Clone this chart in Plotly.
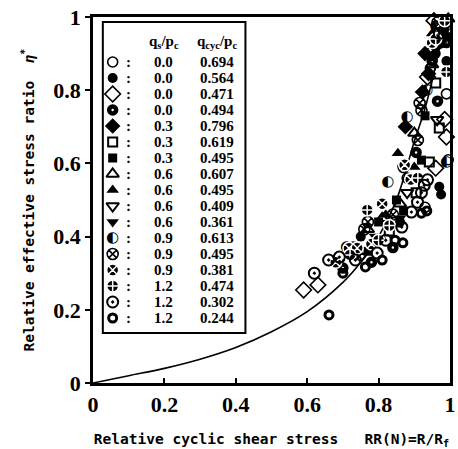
import plotly.graph_objects as go

# ---------------- data ----------------
QS = [0.0, 0.0, 0.0, 0.0, 0.3, 0.3, 0.3, 0.6, 0.6, 0.6, 0.6, 0.9, 0.9, 0.9, 1.2, 1.2, 1.2]
QCYC = [0.694, 0.564, 0.471, 0.494, 0.796, 0.619, 0.495, 0.607, 0.495, 0.409, 0.361,
        0.613, 0.495, 0.381, 0.474, 0.302, 0.244]

RR_01 = [0.99, 0.995, 0.975, 0.99, 0.945, 0.88, 0.93]
ETA_01 = [0.79, 0.61, 0.93, 0.985, 0.86, 0.56, 0.48]
RR_02 = [0.97, 0.975, 0.98, 0.96, 0.75, 0.86, 0.99]
ETA_02 = [0.536, 0.515, 0.965, 0.90, 0.40, 0.44, 0.88]
RR_03 = [0.59, 0.63, 0.96, 0.99, 0.937, 0.985, 0.955]
ETA_03 = [0.254, 0.268, 0.587, 0.672, 0.836, 0.72, 0.99]
RR_04 = [0.70, 0.78, 0.84, 0.95, 0.99, 0.965, 0.905]
ETA_04 = [0.314, 0.33, 0.37, 0.88, 0.93, 0.77, 0.63]
RR_05 = [0.923, 0.96, 0.94, 0.875, 0.93, 0.985]
ETA_05 = [0.795, 0.92, 0.845, 0.70, 0.90, 0.95]
RR_06 = [0.942, 0.97, 0.85, 0.96, 0.83, 0.905]
ETA_06 = [0.604, 0.697, 0.44, 0.82, 0.415, 0.52]
RR_07 = [0.92, 0.80, 0.85, 0.93, 0.87, 0.77]
ETA_07 = [0.609, 0.44, 0.50, 0.73, 0.47, 0.36]
RR_08 = [0.90, 0.995, 0.86, 0.77, 0.95, 0.81]
ETA_08 = [0.683, 0.995, 0.49, 0.42, 0.87, 0.45]
RR_09 = [0.854, 0.785, 0.72, 0.90, 0.82, 0.95]
ETA_09 = [0.628, 0.39, 0.37, 0.59, 0.46, 0.955]
RR_10 = [0.964, 0.75, 0.80, 0.98, 0.88]
ETA_10 = [0.719, 0.345, 0.39, 0.96, 0.52]
RR_11 = [0.69, 0.99, 0.79, 0.86, 0.74]
ETA_11 = [0.33, 0.975, 0.40, 0.45, 0.35]
RR_12 = [0.826, 0.88, 0.99, 0.96, 0.935, 0.71]
ETA_12 = [0.549, 0.727, 0.604, 0.975, 0.80, 0.37]
RR_13 = [0.915, 0.92, 0.91, 0.965, 0.76, 0.77, 0.84, 0.73, 0.87, 0.945]
ETA_13 = [0.765, 0.745, 0.664, 0.985, 0.42, 0.44, 0.46, 0.37, 0.59, 0.90]
RR_14 = [0.717, 0.74, 0.81, 0.873, 0.89, 0.95, 0.78, 0.68]
ETA_14 = [0.368, 0.369, 0.49, 0.596, 0.556, 0.93, 0.38, 0.33]
RR_15 = [0.768, 0.96, 0.99, 0.985, 0.83, 0.80, 0.72, 0.91]
ETA_15 = [0.473, 0.94, 0.85, 0.99, 0.43, 0.39, 0.35, 0.56]
RR_16 = [0.62, 0.66, 0.69, 0.735, 0.796, 0.865, 0.892, 0.909, 0.92, 0.928, 0.937, 0.97, 0.82]
ETA_16 = [0.30, 0.336, 0.344, 0.336, 0.355, 0.426, 0.467, 0.494, 0.52, 0.54, 0.555, 0.955, 0.39]
RR_17 = [0.661, 0.70, 0.763, 0.81, 0.868, 0.92, 0.846, 0.935]
ETA_17 = [0.186, 0.30, 0.317, 0.336, 0.383, 0.464, 0.39, 0.47]

CURVE_RR = [0.0, 0.1, 0.2, 0.3, 0.4, 0.5, 0.6, 0.7, 0.75, 0.8, 0.85, 0.9, 0.93, 0.96, 0.985]
CURVE_ETA = [0.0, 0.02, 0.04, 0.065, 0.097, 0.14, 0.195, 0.275, 0.33, 0.40, 0.50, 0.66, 0.75, 0.87, 1.0]

TICK_VALUES = [0, 0.2, 0.4, 0.6, 0.8, 1]
TICK_LABELS = ["0", "0.2", "0.4", "0.6", "0.8", "1"]

X_TITLE = "Relative cyclic shear stress   RR(N)=R/R<sub>f</sub>"
Y_TITLE = "Relative effective stress ratio  <i>η</i><sup>*</sup>"
HEAD_QS = "q<sub>s</sub>/p<sub>c</sub>"
HEAD_QCYC = "q<sub>cyc</sub>/p<sub>c</sub>"

SERIES_RR = [RR_01, RR_02, RR_03, RR_04, RR_05, RR_06, RR_07, RR_08, RR_09, RR_10,
             RR_11, RR_12, RR_13, RR_14, RR_15, RR_16, RR_17]
SERIES_ETA = [ETA_01, ETA_02, ETA_03, ETA_04, ETA_05, ETA_06, ETA_07, ETA_08, ETA_09, ETA_10,
              ETA_11, ETA_12, ETA_13, ETA_14, ETA_15, ETA_16, ETA_17]

# ---------------- styles ----------------
K = "black"
def mk(symbol, size, lw=0, lc=K):
    return dict(symbol=symbol, size=size, color=K, line=dict(width=lw, color=lc))

STYLES = [
    ("m", mk("circle-open", 10, 1.6)),
    ("m", mk("circle", 10)),
    ("m", mk("diamond-open", 12, 1.6)),
    ("m", mk("circle-open", 7, 4.5)),
    ("m", mk("diamond", 12)),
    ("m", mk("square-open", 9, 2)),
    ("m", mk("square", 9)),
    ("m", mk("triangle-up-open", 11, 2)),
    ("m", mk("triangle-up", 11)),
    ("m", mk("triangle-down-open", 11, 2)),
    ("m", mk("triangle-down", 11)),
    ("t", "◐"),
    ("m", mk("circle-x-open", 11, 1.6)),
    ("m", mk("circle-x", 12, 1.5, "white")),
    ("m", mk("circle-cross", 12, 1.5, "white")),
    ("m", mk("circle-open-dot", 11, 2)),
    ("m", mk("circle-open", 8, 3)),
]

SERIF = "Liberation Serif, Times New Roman, serif"
MONO = "DejaVu Sans Mono, Liberation Mono, monospace"

fig = go.Figure()

# fitted curve
fig.add_trace(go.Scatter(x=CURVE_RR, y=CURVE_ETA, mode="lines",
                         line=dict(color=K, width=1.6, shape="spline", smoothing=1.0),
                         hoverinfo="skip", cliponaxis=False))

def add_points(xs, ys, style, xaxis="x", yaxis="y"):
    kind, spec = style
    if kind == "m":
        fig.add_trace(go.Scatter(x=xs, y=ys, mode="markers", marker=spec,
                                 xaxis=xaxis, yaxis=yaxis, cliponaxis=False))
    else:
        fig.add_trace(go.Scatter(x=xs, y=ys, mode="text", text=[spec] * len(xs),
                                 textposition="middle center",
                                 textfont=dict(family="DejaVu Sans", size=15, color=K),
                                 xaxis=xaxis, yaxis=yaxis, cliponaxis=False))

for i in range(len(QS)):
    add_points(SERIES_RR[i], SERIES_ETA[i], STYLES[i])

# ---------------- legend (drawn in an overlay pixel-axis) ----------------
PX_L, PX_R, PX_T, PX_B = 93, 456, 17, 383
LEG_X0, LEG_X1, LEG_Y0, LEG_Y1 = 103, 248, 22, 333
ROW0, ROW_STEP = 62, 16
SYM_X, COLON_X, C1_X, C2_X, HEAD_Y = 113, 129, 165, 219, 42

for i in range(len(QS)):
    yrow = ROW0 + ROW_STEP * i
    add_points([SYM_X], [yrow], STYLES[i], xaxis="x2", yaxis="y2")

ann = []
for i in range(len(QS)):
    yrow = ROW0 + ROW_STEP * i
    for xx, txt in ((COLON_X, ":"), (C1_X, f"{QS[i]:.1f}"), (C2_X, f"{QCYC[i]:.3f}")):
        ann.append(dict(x=xx, y=yrow, xref="x2", yref="y2", text=txt, showarrow=False,
                        xanchor="center", yanchor="middle",
                        font=dict(family=SERIF, size=15, color=K, weight="bold")))
for xx, txt in ((C1_X, HEAD_QS), (C2_X, HEAD_QCYC)):
    ann.append(dict(x=xx, y=HEAD_Y, xref="x2", yref="y2", text=txt, showarrow=False,
                    xanchor="center", yanchor="middle",
                    font=dict(family=SERIF, size=15, color=K, weight="bold")))

fig.update_layout(
    width=458, height=449,
    margin=dict(l=PX_L, r=458 - PX_R, t=PX_T, b=449 - PX_B),
    paper_bgcolor="white", plot_bgcolor="white",
    showlegend=False,
    annotations=ann,
    shapes=[dict(type="rect", xref="x2", yref="y2", x0=LEG_X0, x1=LEG_X1, y0=LEG_Y0, y1=LEG_Y1,
                 line=dict(color=K, width=2), layer="below")],
    xaxis=dict(range=[0, 1], tickvals=TICK_VALUES, ticktext=TICK_LABELS,
               showline=True, linecolor=K, linewidth=2.5, mirror=True,
               ticks="inside", ticklen=5, tickwidth=1.5, tickcolor=K,
               showgrid=False, zeroline=False, ticklabeloverflow="allow",
               tickfont=dict(family=SERIF, size=22, color=K, weight="bold"),
               title=dict(text=X_TITLE, standoff=20,
                          font=dict(family=MONO, size=14.5, color=K, weight="bold"))),
    yaxis=dict(range=[0, 1], tickvals=TICK_VALUES, ticktext=TICK_LABELS,
               showline=True, linecolor=K, linewidth=2.5, mirror=True,
               ticks="outside", ticklen=5, tickwidth=1.5, tickcolor=K,
               showgrid=False, zeroline=False, ticklabeloverflow="allow",
               tickfont=dict(family=SERIF, size=22, color=K, weight="bold"),
               title=dict(text=Y_TITLE, standoff=16,
                          font=dict(family=MONO, size=14.5, color=K, weight="bold"))),
    xaxis2=dict(range=[PX_L, PX_R], overlaying="x", visible=False, fixedrange=True),
    yaxis2=dict(range=[PX_B, PX_T], overlaying="y", visible=False, fixedrange=True),
)

fig.write_html("out.html")
